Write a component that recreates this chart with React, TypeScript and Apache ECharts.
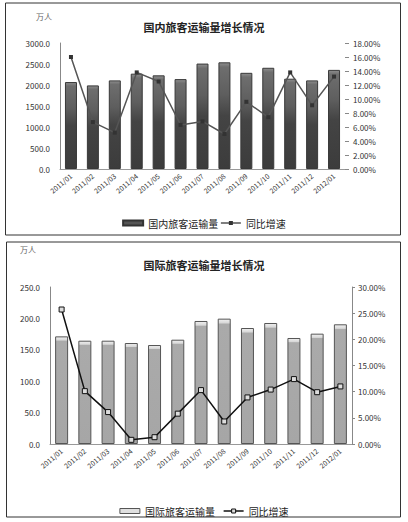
import React, { useEffect, useRef } from "react";
import * as echarts from "echarts";

const categories = ["2011/01","2011/02","2011/03","2011/04","2011/05","2011/06","2011/07","2011/08","2011/09","2011/10","2011/11","2011/12","2012/01"];
const domesticVolume = [2070, 1990, 2110, 2270, 2230, 2140, 2510, 2540, 2290, 2410, 2150, 2110, 2360];
const domesticGrowth = [16.0, 6.7, 5.2, 13.8, 12.5, 6.3, 6.8, 5.0, 9.6, 7.4, 13.8, 9.1, 13.2];
const intlVolume = [171.4, 164.5, 164.5, 160.8, 157.6, 166.1, 195.9, 199.6, 184.7, 192.7, 168.8, 175.7, 190.6];
const intlGrowth = [25.7, 10.1, 6.1, 0.8, 1.3, 5.8, 10.3, 4.3, 8.9, 10.4, 12.4, 9.9, 11.0];

const titles = ["国内旅客运输量增长情况", "国际旅客运输量增长情况"];
const barNames = ["国内旅客运输量", "国际旅客运输量"];
const lineName = "同比增速";
const unit = "万人";

const FONT = "'Noto Sans CJK SC', 'Noto Sans', sans-serif";

export default function App() {
  const ref = useRef<HTMLDivElement>(null);
  useEffect(() => {
    if (!ref.current) return;
    const chart = echarts.init(ref.current, undefined, { renderer: "svg" });
    const axisLabel = { fontSize: 8, color: "#333", fontFamily: FONT };
    const catLabel = { fontSize: 7, color: "#333", rotate: 40, interval: 0, fontFamily: FONT, margin: 6 };
    const option: any = {
      animation: false,
      backgroundColor: "#fff",
      textStyle: { fontFamily: FONT },
      graphic: [
        { type: "rect", shape: { x: 5.5, y: 3, width: 395, height: 232 }, style: { fill: "none", stroke: "#333", lineWidth: 1 } },
        { type: "rect", shape: { x: 6.5, y: 242, width: 394, height: 275 }, style: { fill: "none", stroke: "#333", lineWidth: 1 } },
        { type: "text", x: 36, y: 12, style: { text: unit, fontSize: 8, fill: "#666", fontFamily: FONT } },
        { type: "text", x: 20, y: 245, style: { text: unit, fontSize: 8, fill: "#666", fontFamily: FONT } },
      ],
      title: [
        { text: titles[0], left: "center", top: 16, textStyle: { fontSize: 11, fontWeight: "bold", color: "#222", fontFamily: FONT } },
        { text: titles[1], left: "center", top: 254, textStyle: { fontSize: 11, fontWeight: "bold", color: "#222", fontFamily: FONT } },
      ],
      legend: [
        {
          top: 213, left: "center", itemGap: 2, itemWidth: 20, itemHeight: 5,
          textStyle: { fontSize: 10, color: "#222", fontFamily: FONT },
          data: [
            { name: barNames[0], icon: "rect", itemStyle: { color: "#555", borderColor: "#333" } },
            { name: lineName, itemStyle: { color: "#333", borderWidth: 0 }, lineStyle: { color: "#555", width: 1.5 } },
          ],
        },
        {
          top: 501, left: "center", itemGap: 8, itemWidth: 20, itemHeight: 5,
          textStyle: { fontSize: 10, color: "#222", fontFamily: FONT },
          data: [
            { name: barNames[1], icon: "rect", itemStyle: { color: "#e0e0e0", borderColor: "#555", borderWidth: 1 } },
            { name: lineName, itemStyle: { color: "#ddd", borderColor: "#111", borderWidth: 1 }, lineStyle: { color: "#111", width: 1.5 } },
          ],
        },
      ],
      grid: [
        { left: 60, right: 63, top: 43, bottom: 353 },
        { left: 50, right: 56, top: 287, bottom: 78 },
      ],
      xAxis: [
        {
          type: "category", gridIndex: 0, data: categories,
          axisLine: { show: true, lineStyle: { color: "#999" } }, axisTick: { show: false },
          axisLabel: catLabel,
        },
        {
          type: "category", gridIndex: 1, data: categories,
          axisLine: { show: true, lineStyle: { color: "#999" } }, axisTick: { show: false },
          axisLabel: catLabel,
        },
      ],
      yAxis: [
        {
          type: "value", gridIndex: 0, min: 0, max: 3000, interval: 500,
          axisLine: { show: true, lineStyle: { color: "#888" } }, axisTick: { show: false },
          splitLine: { show: false },
          axisLabel: { ...axisLabel, margin: 10, formatter: (v: number) => v.toFixed(1) },
        },
        {
          type: "value", gridIndex: 0, min: 0, max: 18, interval: 2, position: "right",
          axisLine: { show: false }, axisTick: { show: true, length: 4, lineStyle: { color: "#888" } },
          splitLine: { show: false },
          axisLabel: { ...axisLabel, margin: 8, formatter: (v: number) => v.toFixed(2) + "%" },
        },
        {
          type: "value", gridIndex: 1, min: 0, max: 250, interval: 50,
          axisLine: { show: true, lineStyle: { color: "#888" } }, axisTick: { show: false },
          splitLine: { show: false },
          axisLabel: { ...axisLabel, margin: 10, formatter: (v: number) => v.toFixed(1) },
        },
        {
          type: "value", gridIndex: 1, min: 0, max: 30, interval: 5, position: "right",
          axisLine: { show: true, lineStyle: { color: "#888" } }, axisTick: { show: true, length: 3, lineStyle: { color: "#888" } },
          splitLine: { show: false },
          axisLabel: { ...axisLabel, margin: 6, formatter: (v: number) => v.toFixed(2) + "%" },
        },
      ],
      series: [
        {
          name: barNames[0], type: "bar", xAxisIndex: 0, yAxisIndex: 0, barWidth: 12,
          data: domesticVolume,
          itemStyle: {
            color: new echarts.graphic.LinearGradient(0, 0, 0, 1, [
              { offset: 0, color: "#8f8f8f" },
              { offset: 0.04, color: "#6e6e6e" },
              { offset: 0.3, color: "#5e5e5e" },
              { offset: 0.5, color: "#444" },
              { offset: 1, color: "#3c3c3c" },
            ]),
            borderColor: "#383838", borderWidth: 1,
          },
        },
        {
          name: lineName, type: "line", xAxisIndex: 0, yAxisIndex: 1,
          data: domesticGrowth, symbol: "rect", symbolSize: 4,
          lineStyle: { color: "#555", width: 1.5 },
          itemStyle: { color: "#333", borderWidth: 0 },
        },
        {
          name: barNames[1], type: "bar", xAxisIndex: 1, yAxisIndex: 2, barWidth: 13,
          data: intlVolume,
          itemStyle: {
            color: new echarts.graphic.LinearGradient(0, 0, 0, 1, [
              { offset: 0, color: "#f0f0f0" },
              { offset: 0.03, color: "#d8d8d8" },
              { offset: 0.04, color: "#aaaaaa" },
              { offset: 1, color: "#a6a6a6" },
            ]),
            borderColor: "#555", borderWidth: 1,
          },
        },
        {
          name: lineName, type: "line", xAxisIndex: 1, yAxisIndex: 3,
          data: intlGrowth, symbol: "rect", symbolSize: 5,
          lineStyle: { color: "#111", width: 1.5 },
          itemStyle: { color: "#ddd", borderColor: "#111", borderWidth: 1 },
        },
      ],
    };
    chart.setOption(option);
    return () => chart.dispose();
  }, []);
  return <div ref={ref} style={{ position: "absolute", left: 0, top: 0, width: 408, height: 522 }} />;
}
